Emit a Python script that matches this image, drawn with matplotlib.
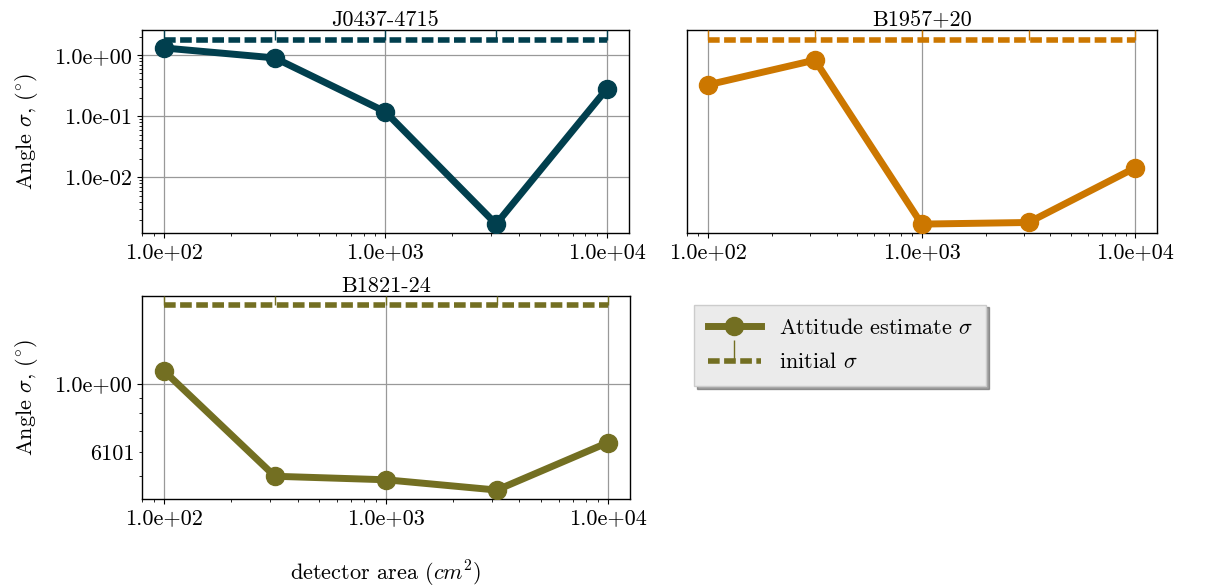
import numpy as np
import matplotlib
matplotlib.use('Agg')
import matplotlib.pyplot as plt
from matplotlib.lines import Line2D
from matplotlib.path import Path
from matplotlib.ticker import FormatStrFormatter, NullFormatter, NullLocator, FuncFormatter

plt.rcParams['font.family'] = 'serif'
plt.rcParams['font.serif'] = ['cmr10', 'DejaVu Serif']
plt.rcParams['mathtext.fontset'] = 'cm'
plt.rcParams['axes.formatter.use_mathtext'] = True
plt.rcParams['font.size'] = 16

# detector area (cm^2)
area = [100, 316.2, 1000, 3162, 10000]

pulsars = ['J0437-4715', 'B1957+20', 'B1821-24']
colors = ['#013f4e', '#cc7700', '#736f22']

# attitude estimate sigma (deg) per pulsar
sigma_j0437 = [1.31, 0.90, 0.118, 0.00171, 0.28]
sigma_b1957 = [1.577, 1.695, 1.05, 1.055, 1.238]
sigma_b1821 = [1.10, 0.50, 0.487, 0.451, 0.643]
sigma_est = [sigma_j0437, sigma_b1957, sigma_b1821]

# initial sigma (deg)
sigma_init = [1.8, 1.8, 1.8, 1.8, 1.8]

# odd minor label on the B1821-24 y axis
minor_label_val = 0.6
minor_label_txt = '6101'

fig = plt.figure(figsize=(12.05, 5.87), dpi=100)
rects = [
    [0.1176, 0.6025, 0.4044, 0.3459],
    [0.5699, 0.6025, 0.3900, 0.3459],
    [0.1176, 0.1494, 0.4052, 0.3469],
]

up_tick = Path([(0, 0), (0, 1)])
dash = (0, (2.1, 0.8))

for i, (name, c, est) in enumerate(zip(pulsars, colors, sigma_est)):
    ax = fig.add_axes(rects[i])
    ax.set_xscale('log')
    ax.set_yscale('log')
    ax.plot(area, est, '-o', color=c, lw=5, ms=13, zorder=3)
    ax.plot(area, sigma_init, ls=dash, color=c, lw=4, zorder=3)
    ax.autoscale_view()
    ax.set_xlim(*ax.get_xlim())
    lo, hi = ax.get_ylim()
    ax.set_ylim(lo, hi)
    ax.vlines(area, sigma_init, hi, colors=c, lw=1, zorder=3)
    ax.set_title(name, fontsize=16, pad=3)
    ax.grid(True, which='major', color='#999999', lw=0.9)
    ax.set_axisbelow(True)
    ax.xaxis.set_major_formatter(FormatStrFormatter('%.1e'))
    ax.xaxis.set_minor_formatter(NullFormatter())
    ax.yaxis.set_major_formatter(FormatStrFormatter('%.1e'))
    if i == 1:
        ax.yaxis.set_major_locator(NullLocator())
        ax.yaxis.set_minor_locator(NullLocator())
    elif i == 2:
        ax.yaxis.set_minor_formatter(FuncFormatter(
            lambda v, p: minor_label_txt if abs(v - minor_label_val) < 1e-6 else ''))
    else:
        ax.yaxis.set_minor_formatter(NullFormatter())
    if i != 1:
        ax.set_ylabel(r'Angle $\sigma$, $(^{\circ})$', labelpad=10)
    if i == 2:
        ax.set_xlabel(r'detector area $(cm^2)$', labelpad=22)
    for s in ax.spines.values():
        s.set_linewidth(1.0)

handles = [
    Line2D([], [], color=colors[2], lw=5, marker='o', ms=13),
    (Line2D([], [], color=colors[2], lw=4, ls=dash),
     Line2D([], [], color=colors[2], lw=0, marker=up_tick, ms=30, mew=1)),
]
leg = fig.legend(handles, [r'Attitude estimate $\sigma$', r'initial $\sigma$'],
                 loc='upper left', bbox_to_anchor=(0.567, 0.5),
                 facecolor='#ebebeb', edgecolor='#cccccc', framealpha=1,
                 fancybox=False, shadow=True, borderpad=0.6, labelspacing=0.65,
                 handlelength=2.4)

fig.savefig('out.png', dpi=100)
